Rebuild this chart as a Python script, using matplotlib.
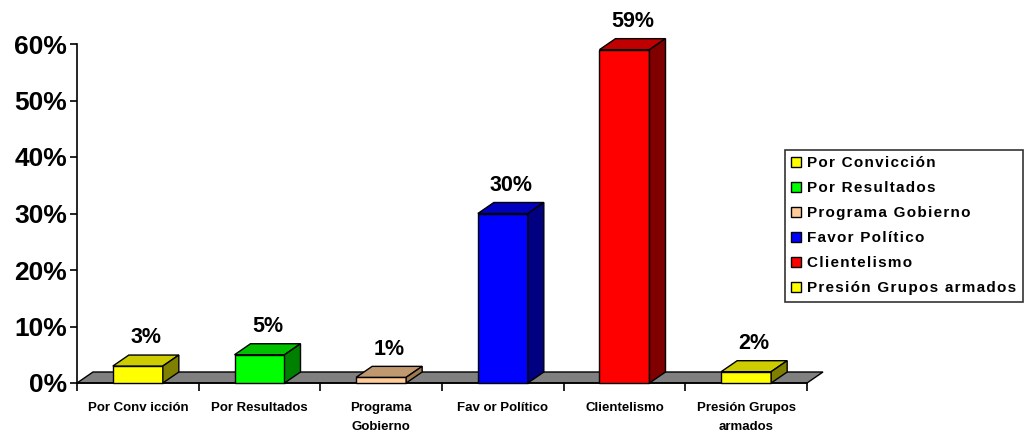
import matplotlib
matplotlib.use('Agg')
import matplotlib.pyplot as plt
from matplotlib.patches import Polygon, Patch

plt.rcParams['font.family'] = ['Liberation Sans', 'DejaVu Sans']

categorias = ['Por Conv icción', 'Por Resultados', 'Programa\nGobierno',
              'Fav or Político', 'Clientelismo', 'Presión Grupos\narmados']
leyenda = ['Por Convicción', 'Por Resultados', 'Programa Gobierno',
           'Favor Político', 'Clientelismo', 'Presión Grupos armados']
valores = [3, 5, 1, 30, 59, 2]
frente = ['#FFFF00', '#00FF00', '#FFCC99', '#0000FF', '#FF0000', '#FFFF00']
arriba = ['#CCCC00', '#00C000', '#C09870', '#0000C0', '#C00000', '#CCCC00']
lado = ['#808000', '#008000', '#A07850', '#000080', '#800000', '#808000']

W, H = 1030, 433
fig = plt.figure(figsize=(W / 100, H / 100), dpi=100)
# axes in pixels: x 77..807, y 44..383
ax = fig.add_axes([77 / W, 1 - 383 / H, (807 - 77) / W, (383 - 44) / H])
ax.set_xlim(0, 6)
ax.set_ylim(0, 60)

px_x = 6 / (807 - 77)
px_y = 60 / (383 - 44)
dx, dy = 16 * px_x, 11 * px_y   # depth of floor and bars
ancho = 50 * px_x

# floor
ax.add_patch(Polygon([(0, 0), (6, 0), (6 + dx, dy), (dx, dy)], closed=True,
                     facecolor='#808080', edgecolor='black', lw=1, clip_on=False, zorder=1))

for i, v in enumerate(valores):
    x0 = i + 0.5 - ancho / 2
    x1 = x0 + ancho
    ax.add_patch(Polygon([(x0, 0), (x1, 0), (x1, v), (x0, v)], closed=True,
                         facecolor=frente[i], edgecolor='black', lw=1, clip_on=False, zorder=3))
    ax.add_patch(Polygon([(x0, v), (x1, v), (x1 + dx, v + dy), (x0 + dx, v + dy)], closed=True,
                         facecolor=arriba[i], edgecolor='black', lw=1, clip_on=False, zorder=3))
    ax.add_patch(Polygon([(x1, 0), (x1 + dx, dy), (x1 + dx, v + dy), (x1, v)], closed=True,
                         facecolor=lado[i], edgecolor='black', lw=1, clip_on=False, zorder=3))
    ax.text(x0 + (ancho + dx) / 2, v + dy + 1.2, f'{v}%', ha='center', va='bottom',
            fontsize=15.5, fontweight='bold', clip_on=False)

for s in ['top', 'right']:
    ax.spines[s].set_visible(False)
ax.spines['left'].set_linewidth(1.2)
ax.spines['bottom'].set_linewidth(1.2)
ax.set_yticks(range(0, 61, 10))
ax.set_yticklabels([f'{t}%' for t in range(0, 61, 10)], fontsize=19, fontweight='bold')
ax.tick_params(axis='y', length=5, width=1.2, pad=2)
ax.set_xticks(range(7))
ax.set_xticklabels([])
ax.tick_params(axis='x', which='major', length=6, width=1.2)
ax.set_xticks([i + 0.5 for i in range(6)], minor=True)
ax.set_xticklabels(categorias, minor=True, fontsize=9.5, fontweight='bold', linespacing=1.75)
ax.tick_params(axis='x', which='minor', length=0, pad=14)
ax.patch.set_visible(False)

handles = [Patch(facecolor=c, edgecolor='black', lw=1) for c in frente]
etiquetas = ['\u200a'.join(t) for t in leyenda]
leg = fig.legend(handles, etiquetas, loc='upper left', bbox_to_anchor=(785 / W, 1 - 150 / H),
                 frameon=True, fancybox=False, edgecolor='black',
                 prop={'weight': 'bold', 'size': 11}, handlelength=0.65, handleheight=0.65,
                 handletextpad=0.4, labelspacing=0.72, borderpad=0.42, borderaxespad=0)
leg.get_frame().set_linewidth(1.2)

fig.savefig('out.png', dpi=100)
